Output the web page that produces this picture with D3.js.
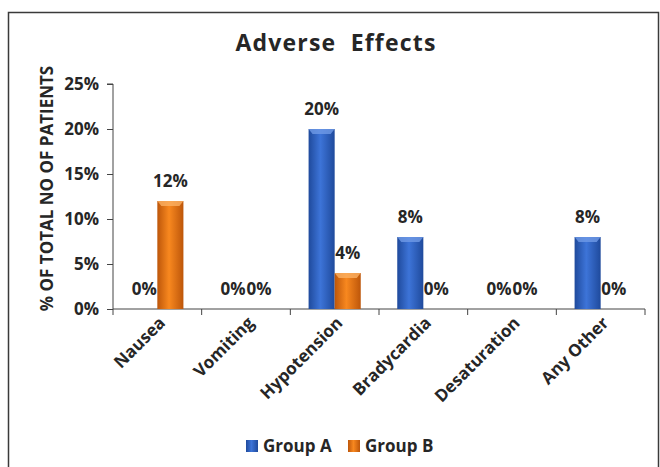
<!DOCTYPE html>
<html>
<head>
<meta charset="utf-8">
<script src="https://cdn.jsdelivr.net/npm/d3@7"></script>
<style>
  body { margin: 0; background: #fff; }
  text { font-family: "Open Sans", Lato, sans-serif; font-weight: bold; fill: #262626; }
</style>
</head>
<body>
<svg id="chart"></svg>
<script>
// Data
const categories = ["Nausea", "Vomiting", "Hypotension", "Bradycardia", "Desaturation", "Any Other"];
const groups = ["Group A", "Group B"];
const groupA = [0, 0, 0.20, 0.08, 0, 0.08];
const groupB = [0.12, 0, 0.04, 0, 0, 0];
const yTicks = [0, 0.05, 0.10, 0.15, 0.20, 0.25];

const width = 660;
const height = 467;
const margin = { top: 84, right: 15, bottom: 158, left: 113 };

const svg = d3.select("#chart")
    .attr("width", width)
    .attr("height", height);

// gradients for the bevelled bars
const defs = svg.append("defs");
const grads = {
    "Group A": ["#1f4a9c", "#3d74d8", "#1f4a9c"],
    "Group B": ["#bd560a", "#f8881f", "#bd560a"]
};
groups.forEach((g, i) => {
    const lg = defs.append("linearGradient")
        .attr("id", "grad" + i)
        .attr("x1", "0").attr("x2", "1").attr("y1", "0").attr("y2", "0");
    lg.append("stop").attr("offset", "0%").attr("stop-color", grads[g][0]);
    lg.append("stop").attr("offset", "45%").attr("stop-color", grads[g][1]);
    lg.append("stop").attr("offset", "100%").attr("stop-color", grads[g][2]);
});

// outer frame
svg.append("rect")
    .attr("x", 8.5).attr("y", 12.5)
    .attr("width", 650).attr("height", 470)
    .attr("fill", "none")
    .attr("stroke", "#3a3a3a")
    .attr("stroke-width", 1.5);

// title
svg.append("text")
    .attr("x", 336)
    .attr("y", 51)
    .attr("text-anchor", "middle")
    .attr("xml:space", "preserve")
    .style("font-size", "23px")
    .style("letter-spacing", "1.2px")
    .text("Adverse  Effects");

// scales
const x0 = d3.scaleBand()
    .domain(categories)
    .range([margin.left, width - margin.right]);

const x1 = d3.scaleBand()
    .domain(groups)
    .range([0, x0.bandwidth()])
    .paddingOuter(0.7);

const y = d3.scaleLinear()
    .domain([0, 0.25])
    .range([height - margin.bottom, margin.top]);

// y axis
const yAxis = d3.axisLeft(y)
    .tickValues(yTicks)
    .tickFormat(d3.format(".0%"))
    .tickSize(6)
    .tickPadding(8);

const yg = svg.append("g")
    .attr("transform", `translate(${margin.left}, 0)`)
    .call(yAxis);
yg.select(".domain").attr("d", `M-6,${y(0.25)}H0V${y(0)}`).attr("stroke", "#444");
yg.selectAll(".tick line").attr("stroke", "#444");
yg.selectAll(".tick text")
    .style("font-size", "17px")
    .attr("fill", "#262626")
    .style("font-family", "'Open Sans', Lato, sans-serif");

// x axis line with ticks at category boundaries
const xg = svg.append("g")
    .attr("transform", `translate(0, ${y(0)})`);
xg.append("line")
    .attr("x1", margin.left).attr("x2", width - margin.right)
    .attr("stroke", "#444");
const bounds = categories.map(c => x0(c)).concat([x0.range()[1]]);
xg.selectAll(".xtick")
    .data(bounds)
    .enter()
    .append("line")
    .attr("class", "xtick")
    .attr("x1", d => d).attr("x2", d => d)
    .attr("y1", 0).attr("y2", 6)
    .attr("stroke", "#444");

// category labels
xg.selectAll(".xlabel")
    .data(categories)
    .enter()
    .append("text")
    .attr("class", "xlabel")
    .attr("text-anchor", "end")
    .style("font-size", "17px")
    .attr("transform", d => `translate(${x0(d) + x0.bandwidth() / 2 + 9}, 15) rotate(-45)`)
    .text(d => d);

// bars
const rows = categories.map((c, i) => ({
    cat: c,
    values: [
        { key: "Group A", v: groupA[i], gi: 0 },
        { key: "Group B", v: groupB[i], gi: 1 }
    ]
}));

const cat = svg.selectAll(".cat")
    .data(rows)
    .enter()
    .append("g")
    .attr("class", "cat")
    .attr("transform", d => `translate(${x0(d.cat)}, 0)`);

cat.selectAll("rect")
    .data(d => d.values.filter(v => v.v > 0))
    .enter()
    .append("rect")
    .attr("x", d => x1(d.key))
    .attr("y", d => y(d.v))
    .attr("width", x1.bandwidth())
    .attr("height", d => y(0) - y(d.v))
    .attr("fill", d => `url(#grad${d.gi})`);

// light bevel on top of each bar
cat.selectAll(".bevel")
    .data(d => d.values.filter(v => v.v > 0))
    .enter()
    .append("path")
    .attr("class", "bevel")
    .attr("d", d => {
        const bx = x1(d.key), bw = x1.bandwidth(), by = y(d.v);
        return `M${bx},${by}H${bx + bw}L${bx + bw - 4},${by + 5}H${bx + 4}Z`;
    })
    .attr("fill", d => d.gi === 0 ? "#6f9ae6" : "#fbb063")
    .attr("opacity", 0.8);

// value labels
cat.selectAll(".vlabel")
    .data(d => d.values)
    .enter()
    .append("text")
    .attr("class", "vlabel")
    .attr("x", d => x1(d.key) + x1.bandwidth() / 2)
    .attr("y", d => y(d.v) - 14)
    .attr("text-anchor", "middle")
    .style("font-size", "17px")
    .text(d => d3.format(".0%")(d.v));

// y axis title
svg.append("text")
    .attr("transform", `translate(53, ${(y(0) + y(0.25)) / 2 - 8}) rotate(-90)`)
    .attr("text-anchor", "middle")
    .style("font-size", "17px")
    .text("% OF TOTAL NO OF PATIENTS");

// legend
const legend = svg.append("g")
    .attr("transform", "translate(246, 440)");
const li = legend.selectAll(".li")
    .data(groups)
    .enter()
    .append("g")
    .attr("class", "li")
    .attr("transform", (d, i) => `translate(${i * 102}, 0)`);
li.append("rect")
    .attr("width", 12).attr("height", 12)
    .attr("fill", (d, i) => `url(#grad${i})`);
li.append("text")
    .attr("x", 17)
    .attr("y", 12)
    .style("font-size", "17px")
    .text(d => d);
</script>
</body>
</html>
